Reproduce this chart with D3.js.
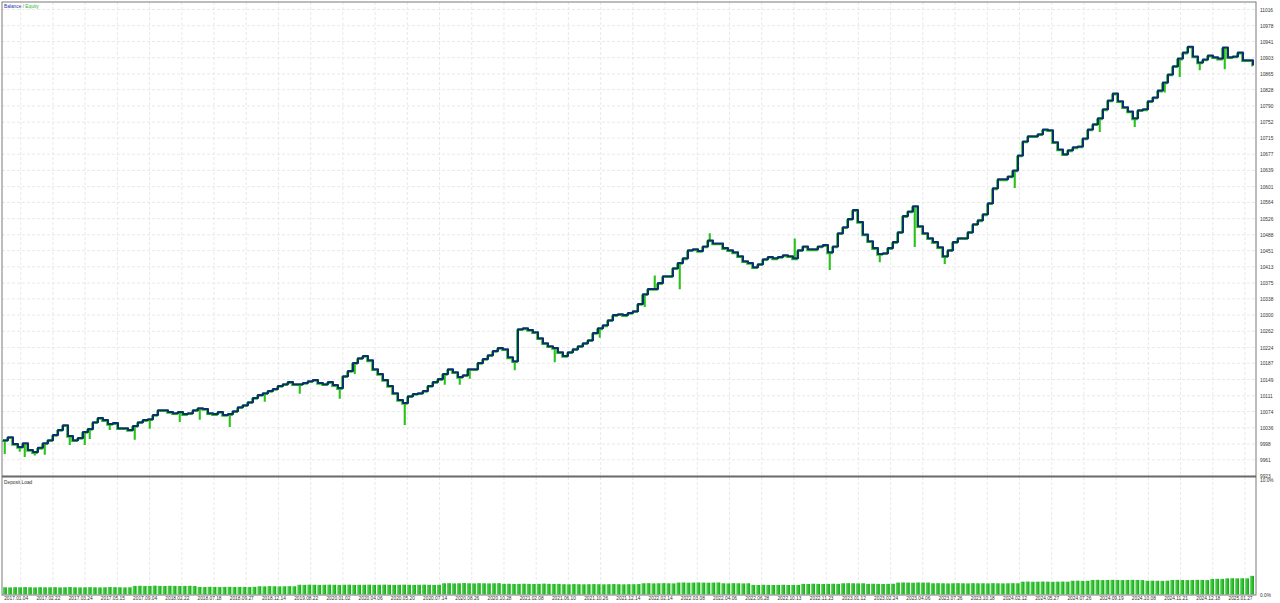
<!DOCTYPE html>
<html><head><meta charset="utf-8">
<script src="https://cdn.jsdelivr.net/npm/d3@7"></script>
<style>body{margin:0;background:#fff}svg{display:block}text{font-family:"Liberation Sans",Arial,sans-serif}</style>
</head><body><svg id="c" width="1280" height="603"></svg>
<script>
const dateLabels=["2017.01.04","2017.02.22","2017.03.24","2017.05.15","2017.09.04","2018.02.22","2018.07.18","2018.09.27","2018.12.14","2019.08.22","2020.01.02","2020.04.06","2020.05.20","2020.07.14","2020.08.26","2020.10.28","2021.02.08","2021.06.10","2021.10.26","2021.12.14","2022.02.14","2022.03.08","2022.04.06","2022.06.28","2022.10.13","2022.11.23","2023.01.12","2023.02.24","2023.04.06","2023.07.26","2023.10.18","2024.02.12","2024.05.27","2024.07.26","2024.09.19","2024.10.08","2024.11.21","2024.12.18","2025.01.27"];
const yTickLabels=[9923,9961,9998,10036,10074,10111,10149,10187,10224,10262,10300,10338,10375,10413,10451,10488,10526,10564,10601,10639,10677,10715,10752,10790,10828,10865,10903,10941,10978,11016];
const balance=[
10007,10014,9998,9991,10000,9984,9979,9989,10000,10007,
10019,10031,10042,10017,10007,10012,10026,10033,10049,10059,
10054,10045,10047,10035,10035,10031,10040,10049,10054,10056,
10066,10077,10077,10073,10070,10073,10068,10070,10077,10082,
10080,10070,10068,10073,10066,10068,10075,10084,10089,10096,
10106,10113,10117,10122,10127,10134,10138,10143,10138,10138,
10141,10145,10148,10141,10138,10143,10136,10129,10157,10169,
10188,10199,10204,10194,10173,10162,10148,10134,10117,10101,
10094,10110,10115,10117,10122,10134,10143,10150,10162,10173,
10166,10155,10159,10173,10173,10188,10197,10206,10216,10223,
10220,10201,10192,10267,10269,10265,10260,10246,10234,10227,
10223,10213,10204,10213,10220,10227,10234,10241,10258,10269,
10276,10288,10300,10302,10300,10305,10309,10326,10349,10361,
10361,10375,10391,10391,10410,10422,10433,10452,10454,10450,
10461,10475,10468,10468,10457,10452,10447,10438,10426,10422,
10412,10419,10431,10436,10433,10436,10440,10438,10433,10452,
10461,10454,10454,10461,10464,10447,10461,10492,10506,10525,
10546,10518,10489,10473,10457,10443,10445,10457,10471,10494,
10532,10543,10555,10508,10492,10480,10471,10459,10438,10452,
10471,10480,10480,10494,10513,10522,10536,10562,10597,10618,
10618,10625,10639,10674,10707,10719,10719,10724,10735,10733,
10705,10688,10677,10686,10693,10695,10714,10735,10747,10761,
10782,10803,10819,10801,10787,10777,10761,10780,10782,10801,
10810,10826,10845,10864,10883,10901,10915,10929,10906,10892,
10899,10908,10904,10901,10927,10904,10906,10915,10897,10897,
10885];
const equitySpikes=[[0,9979],[3,9984],[4,9972],[6,9975],[8,9977],[13,10000],[16,10000],[17,10014],[21,10035],[26,10012],[29,10038],[35,10054],[39,10059],[45,10042],[52,10101],[59,10120],[67,10108],[70,10166],[80,10047],[88,10141],[91,10141],[93,10155],[102,10175],[110,10194],[119,10251],[128,10323],[130,10393],[135,10365],[141,10492],[158,10480],[165,10410],[175,10428],[182,10464],[188,10424],[202,10602],[219,10733],[226,10745],[232,10826],[235,10862],[239,10878],[244,10880]];
const depositLoad=[
0.63,0.62,0.64,0.63,0.65,0.63,0.62,0.64,0.63,0.63,0.64,0.62,0.63,0.65,0.63,0.62,0.63,0.64,0.63,0.62,0.63,0.65,0.64,0.63,0.62,0.63,
0.75,0.76,0.74,0.75,0.77,0.75,0.74,0.76,0.75,0.74,0.75,0.76,0.74,
0.66,0.65,0.67,0.66,0.65,0.66,0.67,0.65,0.66,0.66,0.65,0.67,
0.72,0.71,0.73,0.72,0.71,0.72,0.73,0.72,
0.85,0.84,0.86,0.85,0.84,0.85,0.86,0.85,0.84,0.85,0.86,0.84,0.85,0.85,0.86,0.84,0.85,0.86,0.85,0.84,0.85,0.86,0.85,0.84,0.85,0.86,0.85,0.84,0.85,
0.98,0.99,0.97,0.98,1.0,0.98,0.97,0.99,0.98,0.97,0.98,0.99,
0.93,0.94,0.92,0.93,0.94,0.93,0.92,0.93,0.95,0.93,0.92,0.93,
0.9,0.89,0.91,0.9,0.89,0.9,0.91,0.9,0.89,0.9,0.91,0.9,0.89,0.9,0.9,0.91,
0.98,0.99,0.97,0.98,0.99,0.98,0.97,
1.04,1.05,1.03,1.04,1.05,1.04,1.03,1.04,1.05,
0.98,0.97,0.99,0.98,0.97,0.98,
0.84,0.83,0.85,0.84,0.83,0.84,0.85,0.83,0.84,0.84,
0.93,0.92,0.94,0.93,0.92,0.93,0.94,0.93,
0.98,0.99,0.98,0.97,0.98,
0.93,0.94,0.93,0.92,0.93,0.94,
1.04,1.05,1.04,1.03,1.05,1.04,1.04,
0.98,0.99,0.98,0.97,0.98,0.99,
0.98,0.97,0.99,0.98,0.98,0.97,0.99,0.98,0.97,0.98,0.99,0.98,
1.12,1.13,1.11,1.12,1.13,1.12,1.11,1.12,1.13,1.12,
1.2,1.21,1.19,1.2,
1.27,1.28,1.26,1.27,1.28,1.27,1.26,1.27,1.28,1.27,1.26,
1.2,1.21,1.2,1.19,1.21,
1.27,1.28,1.27,1.26,1.27,1.28,1.27,1.26,
1.36,1.37,1.36,
1.41,1.42,1.41,1.42,
1.41,
1.63];
const loadTicks=[10,0];

const svg=d3.select("#c");
const L=2,R=1256,T=2,SEP=476,B=595,FS=4.8;
const n=balance.length;
const x=d3.scaleLinear().domain([0,n-1]).range([3,1253]);
const y=d3.scaleLinear().domain([9923,11016]).range([476,9.5]);
const yl=d3.scaleLinear().domain([0,10]).range([594.5,480]);
const xd=d3.scalePoint().domain(dateLabels).range([20.7,1245]);
const xb=d3.scaleBand().domain(d3.range(depositLoad.length)).range([3,1254]).paddingInner(0.22);

const defs=svg.append("defs");
const g=defs.append("linearGradient").attr("id","bar").attr("x1",0).attr("x2",1).attr("y1",0).attr("y2",0);
g.append("stop").attr("offset","0").attr("stop-color","#5cd85c");
g.append("stop").attr("offset","1").attr("stop-color","#12a612");

// grids
svg.append("g").selectAll("line").data(yTickLabels).join("line")
  .attr("x1",L).attr("x2",R).attr("y1",d=>y(d)).attr("y2",d=>y(d))
  .attr("stroke","#e3e3e3").attr("stroke-width",0.8).attr("stroke-dasharray","3,2");
svg.append("g").selectAll("line").data(dateLabels).join("line")
  .attr("x1",d=>xd(d)).attr("x2",d=>xd(d)).attr("y1",T).attr("y2",B)
  .attr("stroke","#e3e3e3").attr("stroke-width",0.8).attr("stroke-dasharray","3,2");

// deposit load bars
svg.append("g").selectAll("rect").data(depositLoad).join("rect")
  .attr("x",(d,i)=>xb(i)).attr("width",xb.bandwidth())
  .attr("y",d=>yl(d)).attr("height",d=>yl(0)-yl(d)).attr("fill","url(#bar)");

// equity
const eqMap=new Map(equitySpikes);
const eqPts=[];
balance.forEach((v,i)=>{eqPts.push([i,v]); if(eqMap.has(i)){eqPts.push([i+0.5,eqMap.get(i)]);eqPts.push([i+0.6,v]);}});
const line=d3.line().x(d=>x(d[0])).y(d=>y(d[1])).curve(d3.curveStepAfter);
svg.append("path").datum(eqPts).attr("d",line).attr("fill","none")
  .attr("stroke","#2ac21a").attr("stroke-width",1.6).attr("transform","translate(-1,1)");
svg.append("path").datum(balance.map((v,i)=>[i,v])).attr("d",line).attr("fill","none")
  .attr("stroke","#0c2f6e").attr("stroke-width",2).attr("stroke-linejoin","round");

// frame
svg.append("rect").attr("x",L).attr("y",T).attr("width",R-L).attr("height",B-T)
  .attr("fill","none").attr("stroke","#7a7a7a").attr("stroke-width",1);
svg.append("line").attr("x1",L).attr("x2",R).attr("y1",SEP+0.5).attr("y2",SEP+0.5)
  .attr("stroke","#6a6a6a").attr("stroke-width",2);

// right axis
const ax=svg.append("g").attr("transform",`translate(${R+2},0)`)
  .call(d3.axisRight(y).tickValues(yTickLabels).tickSize(0).tickPadding(2).tickFormat(d=>String(d)));
ax.select(".domain").remove();
ax.selectAll("text").attr("font-size",FS).attr("fill","#333").attr("font-family","Liberation Sans, Arial, sans-serif");
const axl=svg.append("g").attr("transform",`translate(${R+2},0)`)
  .call(d3.axisRight(yl).tickValues(loadTicks).tickSize(0).tickPadding(2).tickFormat(d=>d.toFixed(1)+"%"));
axl.select(".domain").remove();
axl.selectAll("text").attr("font-size",FS).attr("fill","#333").attr("font-family","Liberation Sans, Arial, sans-serif");

// bottom axis
const bx=svg.append("g").attr("transform",`translate(-5,${B})`)
  .call(d3.axisBottom(xd).tickSize(0).tickPadding(1.5));
bx.select(".domain").remove();
bx.selectAll("text").attr("font-size",FS).attr("fill","#333").attr("font-family","Liberation Sans, Arial, sans-serif");

// legend
const lg=svg.append("text").attr("x",4).attr("y",7.5).attr("font-size",FS);
lg.append("tspan").attr("fill","#2233a8").text("Balance");
lg.append("tspan").attr("fill","#666").text(" / ");
lg.append("tspan").attr("fill","#2bb52b").text("Equity");
svg.append("text").attr("x",4).attr("y",484).attr("font-size",FS).attr("fill","#333").text("Deposit Load");
</script></body></html>
